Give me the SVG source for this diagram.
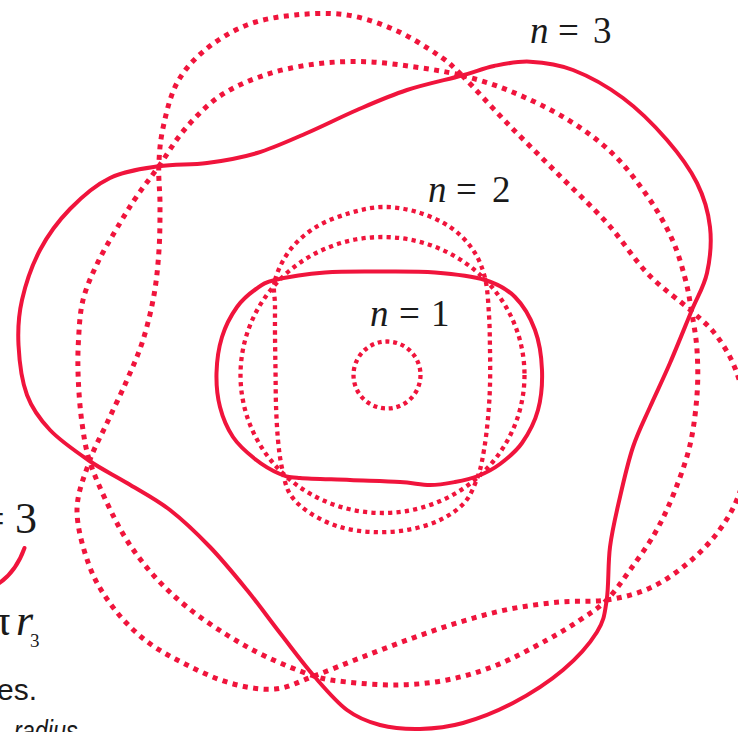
<svg xmlns="http://www.w3.org/2000/svg" width="738" height="732" viewBox="0 0 738 732">
<style>
.solid{fill:none;stroke:#f0143c;stroke-width:4;stroke-linejoin:round;stroke-linecap:round}
.dot3{fill:none;stroke:#f0143c;stroke-width:5;stroke-dasharray:5 5.5}
.dot2{fill:none;stroke:#f0143c;stroke-width:4.3;stroke-dasharray:4.2 4.2}
.dot1{fill:none;stroke:#f0143c;stroke-width:4.3;stroke-dasharray:4 3.8}
.lbl{font-family:"Liberation Serif","Times New Roman",serif;font-size:37px;fill:#1a1a1a}
.it{font-style:italic}
.side{font-family:"Liberation Sans",Arial,sans-serif;fill:#1a1a1a}
</style>
<rect width="738" height="732" fill="#ffffff"/>

<g id="orbit-n3">
<path class="dot3" d="M462,75.5 C473.5,86.8 491.2,106.8 507,123 S540.3,156.3 557,173 S591.8,206.2 607,223 S633.9,259.3 648,274 S680.2,300.8 691.5,311 S708.75,325.5 716,335 S730,355.5 735,368 S743.8,395.5 746,410 S749.3,440.5 748,455 S743,484.2 738,497 S726.3,521 718,532 S699.3,553.7 688,563 S663.6,581.8 650,588 S621.7,597.7 606.7,600 S576.1,600.5 560,602 S526.7,605.7 510,609 S476.7,617 460,622 S426.7,633 410,639 S376,651.8 360,658 S328.2,670.8 314,676 S289,687.8 275,689 S245,687.2 230,683 S199.2,671.2 185,664 S157.2,649.7 145,640 S121.3,618.5 112,606 S94.8,581 89,565 S76.9,527.3 77,510 S84.6,475.5 89.6,461 S100.8,436.5 107,423 S121,393.8 127,380 S138.5,354.2 143,340 S151.3,310 154,295 S158,265 159,250 S160,219 160,205 S158.3,179.1 158.8,166.3 S160,141.9 163,128 S170,96 177,83 S193.3,59.7 205,50 S232,30.8 247,25 S278.3,16.7 295,15 S330.3,12.5 347,15 S379.8,23.3 395,30 S426.8,47.4 438,55 S450.5,64.2 462,75.5 Z"/>
<path class="dot3" d="M462,75.5 C477.8,79.5 492.8,83.9 510,91 S548,107.7 565,118 S598.2,139.8 612,153 S638,182.7 648,197 S665.8,225.5 672,239 S681.75,266 685,278 S689.5,299 691.5,311 S696.1,336 697,350 S698.2,379.2 697,395 S693.8,428.7 690,445 S679.8,478.3 674,493 S662.3,520.2 655,533 S638.05,558.8 630,570 S615,591.7 606.7,600 S590,613.3 580,620 S560.8,632.5 547,640 S513.7,658.3 497,665 S463.7,676.7 447,680 S413.7,684.7 397,685 S360.8,683.5 347,682 S327.3,680.2 314,676 S281.5,663.8 267,657 S240.3,643.3 227,635 S199,616.7 187,607 S164.8,587.8 155,577 S135.8,554 128,542 S114.4,518.5 108,505 S93.9,474.7 89.6,461 S83.9,436.5 82,423 S78.9,393.8 78.3,380 S77.7,353.3 78.5,340 S79.75,313 83,300 S91.8,274.8 98,262 S113.5,234 120,223 S130.5,205.45 137,196 S150.8,177.5 158.8,166.3 S174.8,140.7 185,129 S206.7,105 220,96 S249.2,80.3 265,75 S298.3,66.2 315,64 S348.3,61.2 365,61.7 S398.8,64.7 415,67 S446.2,71.5 462,75.5 Z"/>
<path class="solid" d="M462,75.5 C476.5,71.5 482.7,68.3 494,66 S516.8,61 530,61.7 S557.5,64 573,70 S607.3,86.3 623,98 S654.7,125.8 667,140 S689.8,168.5 697,183 S708.3,212 710,227 S710.1,259 707,273 S697.7,296 691.5,311 S676.9,347 670,363 S656.2,393 650,407 S638,432 633,447 S623.8,480.3 620,497 S612.2,529.8 610,547 S608.9,585.8 606.7,600 S604.3,620.3 597,632 S577,658.2 563,670 S529.7,694.2 513,703 S478.5,718.7 463,723 S433.8,728.7 420,729 S392.2,728.2 380,725 S358,718.2 347,710 S325.2,688.8 314,676 S291.2,647.3 280,633 S258.7,604.3 247,590 S222.8,560.3 210,547 S183.8,520.7 170,510 S140.4,491.2 127,483 S102.4,469.8 89.6,461 S60.4,441 50,430 S32.3,409.2 27,395 S19.3,360.8 18.5,345 S18.4,315.8 22,300 S32,265.2 40,250 S58.3,221 70,209 S95.2,185.1 110,178 S142.6,168.8 158.8,166.3 S190.6,165.2 207,163 S240.3,158 257,153 S290.3,140.2 307,133 S340.3,117.2 357,110 S389.5,95.75 407,90 S447.5,79.5 462,75.5 Z"/>
</g>

<g id="orbit-n2">
<ellipse class="dot2" cx="382.5" cy="375" rx="142" ry="138"/>
<path class="dot2" d="M275,280 C277.5,270.8 283.2,258.8 290,250 S306,233.2 316,227 S338.8,216.3 350,213 S371.8,207.2 383,207 S405.8,208.7 417,212 S440.7,220.7 450,227 S467.2,241.5 473,250 S482.3,267.2 485,278 S488.2,303 489,315 S489.8,338.3 490,350 S490.3,373.7 490,385 S489,407.2 488,418 S485.7,440.3 484,450 S481.2,467.3 478,476 S471.3,494.7 465,502 S449.7,515.3 440,520 S418.2,528 407,530 S384.2,532.5 373,532 S350.5,530.2 340,527 S318.3,518.5 310,513 S294.7,501.5 290,494 S284,477 282,468 S279,450.5 278,440 S276.4,416.7 276,405 S275.7,381.7 275.5,370 S275.1,345.8 275,335 S275,314.2 275,305 S272.5,289.2 275,280 Z"/>
<path class="solid" d="M275,280 C286.5,277.25 307.5,273.9 325,272.5 S361.7,271.5 380,271.5 S417.5,271.1 435,272.5 S471.7,275.9 485,280 S506.7,288.7 515,297 S530.5,317.8 535,330 S541.5,356.7 542,370 S541.3,397.8 538,410 S528.3,434 522,443 S507.3,458.5 500,464 S485.5,473 478,476 S463,480.5 455,482 S439.2,485 430,485 S413.3,482.8 400,482 S366.7,480.7 350,480 S311.7,479 300,478 S287.5,477.2 280,474 S262.8,465.2 255,459 S238.8,445.7 233,437 S222.75,417.7 220,407 S216.2,384.7 216.5,373 S218.6,348 222,337 S231.3,315 237,307 S249.7,293.5 256,289 S263.5,282.75 275,280 Z"/>
</g>

<g id="orbit-n1">
<circle class="dot1" cx="387" cy="375" r="33.5"/>
</g>

<g id="labels">
<text class="lbl" y="43"><tspan class="it" x="530">n</tspan><tspan x="558">=</tspan><tspan x="593">3</tspan></text>
<text class="lbl" y="202"><tspan class="it" x="428">n</tspan><tspan x="456">=</tspan><tspan x="492">2</tspan></text>
<text class="lbl" y="326"><tspan class="it" x="370">n</tspan><tspan x="399">=</tspan><tspan x="431">1</tspan></text>
</g>

<g id="margin-fragment">
<text class="lbl" style="font-size:44px" y="533"><tspan x="-20">=</tspan><tspan x="15">3</tspan></text>
<path class="solid" d="M-2,584 Q16,572 24.5,548"/>
<text class="lbl" style="font-size:44px" y="635"><tspan x="-12">π</tspan><tspan class="it" x="16">r</tspan></text>
<text class="lbl" style="font-size:19px" x="30" y="647">3</text>
<text class="side" style="font-size:30px" x="37" y="700" text-anchor="end">es.</text>
<text class="side it" style="font-size:30px" transform="translate(14,741) scale(0.78,1)">radius</text>
</g>
</svg>
